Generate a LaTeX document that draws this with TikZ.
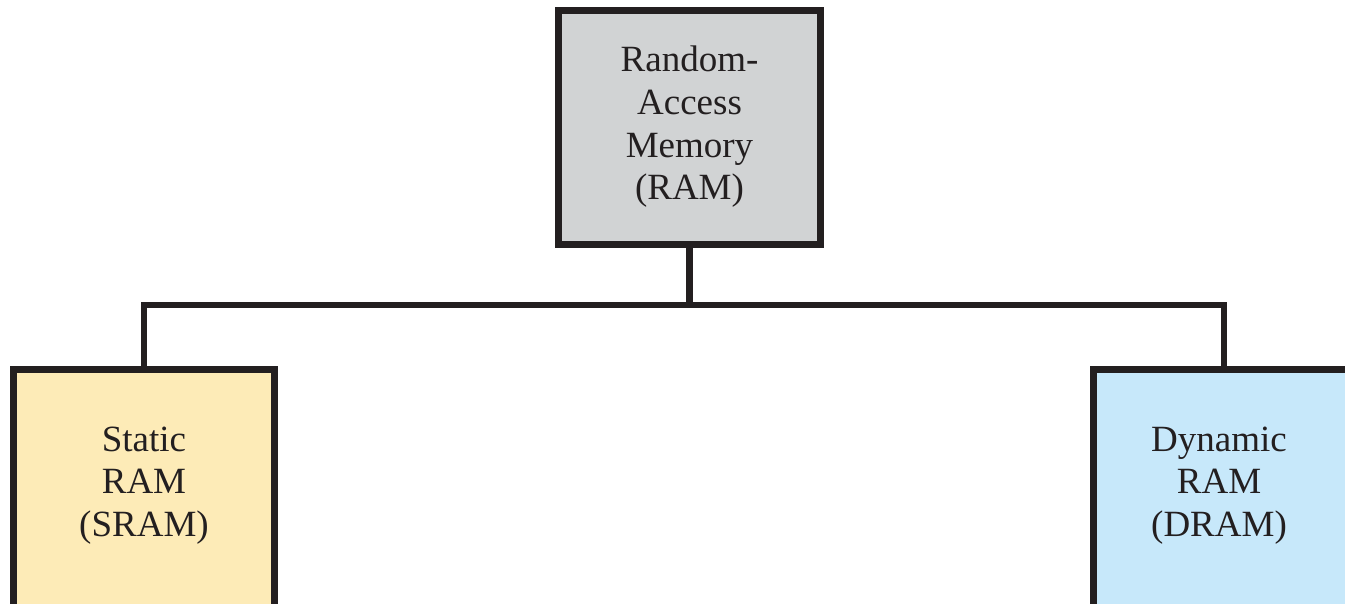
\documentclass[tikz,border=0pt]{standalone}
\usepackage{fontspec}
\setmainfont{Liberation Serif}
\definecolor{edge}{HTML}{231F20}
\definecolor{ramgray}{HTML}{D1D3D4}
\definecolor{sramyellow}{HTML}{FDEBB7}
\definecolor{dramblue}{HTML}{C7E8FA}
\begin{document}
\begin{tikzpicture}[x=1pt,y=-1pt,
  box/.style={draw=edge, line width=6.5pt, inner sep=0pt, outer sep=0pt},
  lbl/.style={font=\fontsize{37}{42.7}\selectfont, align=center, text=edge, inner sep=0pt},
  conn/.style={draw=edge, line width=6.5pt}]
\useasboundingbox (0,0) rectangle (1345,604);
\clip (0,0) rectangle (1345,604);

% top-level memory type
\node[box, fill=ramgray, minimum width=262pt, minimum height=234pt] (ram) at (689.5,127.5) {};
\node[lbl] (ramtext) at (689.5,127) {Random-\\Access\\Memory\\(RAM)};

% the two kinds of RAM
\node[box, fill=sramyellow, anchor=north, minimum width=261pt, minimum height=300pt] (sram) at (144,369.5) {};
\node[lbl] (sramtext) at (144,485.5) {Static\\RAM\\(SRAM)};

\node[box, fill=dramblue, anchor=north, minimum width=261pt, minimum height=300pt] (dram) at (1224,369.5) {};
\node[lbl] (dramtext) at (1219,485.5) {Dynamic\\RAM\\(DRAM)};

% tree connectors
\coordinate (bus) at (689.5,305);
\draw[conn] (ram.south) -- (bus);
\draw[conn] (sram.north) |- (bus) -| (dram.north);
\end{tikzpicture}
\end{document}
